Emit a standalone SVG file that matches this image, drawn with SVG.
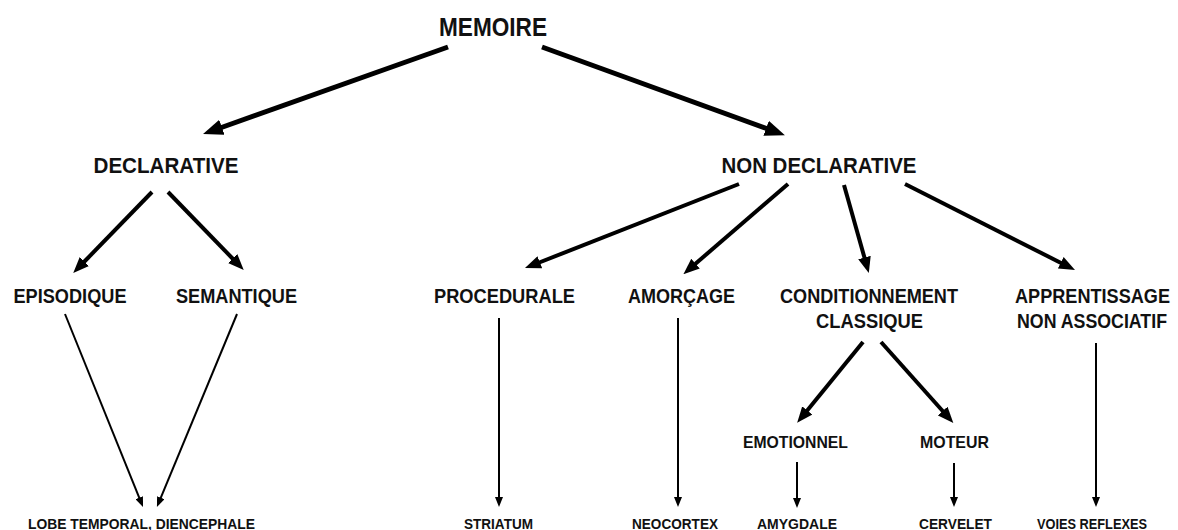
<svg xmlns="http://www.w3.org/2000/svg" width="1178" height="530" viewBox="0 0 1178 530">
<style>
text{font-family:"Liberation Sans",Arial,sans-serif;font-weight:bold;fill:#111;text-anchor:middle}
.t1{font-size:26px}
.t2{font-size:22px}
.t3{font-size:21px}
.t3s{font-size:19px}
.t4{font-size:17px}
.t5{font-size:15px}
.thick{stroke:#000;stroke-width:5;fill:none;marker-end:url(#hThick)}
.med{stroke:#000;stroke-width:4;fill:none;marker-end:url(#hMed)}
.thin{stroke:#000;stroke-width:2;fill:none;marker-end:url(#hThin)}
</style>
<defs>
<marker id="hThick" markerUnits="userSpaceOnUse" markerWidth="20" markerHeight="16" refX="2" refY="8" orient="auto"><path d="M0,0 L20,8 L0,16 Z" fill="#000"/></marker>
<marker id="hMed" markerUnits="userSpaceOnUse" markerWidth="16" markerHeight="13" refX="2" refY="6.5" orient="auto"><path d="M0,0 L16,6.5 L0,13 Z" fill="#000"/></marker>
<marker id="hThin" markerUnits="userSpaceOnUse" markerWidth="10" markerHeight="8" refX="2" refY="4" orient="auto"><path d="M0,0 L10,4 L0,8 Z" fill="#000"/></marker>
</defs>
<rect width="1178" height="530" fill="#fff"/>
<g id="connectors">
<line class="thick" x1="448" y1="47" x2="220" y2="128"/>
<line class="thick" x1="542" y1="47" x2="768" y2="129"/>
<line class="med" x1="152" y1="192" x2="83" y2="263"/>
<line class="med" x1="168" y1="192" x2="234" y2="260"/>
<line class="med" x1="739" y1="184" x2="538" y2="263"/>
<line class="med" x1="788" y1="184" x2="694" y2="265"/>
<line class="med" x1="844" y1="185" x2="865" y2="259.5"/>
<line class="med" x1="905" y1="184" x2="1062.5" y2="263.7"/>
<line class="med" x1="863" y1="342" x2="806" y2="412"/>
<line class="med" x1="881" y1="342" x2="944" y2="412.5"/>
<line class="thin" x1="65" y1="314" x2="140" y2="499.6"/>
<line class="thin" x1="237" y1="314" x2="160" y2="499.6"/>
<line class="thin" x1="499" y1="318" x2="499" y2="499"/>
<line class="thin" x1="678" y1="318" x2="678" y2="499"/>
<line class="thin" x1="797" y1="462" x2="797" y2="500"/>
<line class="thin" x1="954" y1="463" x2="954" y2="499"/>
<line class="thin" x1="1096" y1="343" x2="1096" y2="499"/>
</g>
<g id="memoire"><text class="t1" x="493" y="36" textLength="108" lengthAdjust="spacingAndGlyphs">MEMOIRE</text></g>
<g id="declarative"><text class="t2" x="166" y="173" textLength="145" lengthAdjust="spacingAndGlyphs">DECLARATIVE</text></g>
<g id="non-declarative"><text class="t2" x="819" y="173" textLength="195" lengthAdjust="spacingAndGlyphs">NON DECLARATIVE</text></g>
<g id="episodique"><text class="t3" x="70" y="303" textLength="113" lengthAdjust="spacingAndGlyphs">EPISODIQUE</text></g>
<g id="semantique"><text class="t3" x="236.5" y="303" textLength="121" lengthAdjust="spacingAndGlyphs">SEMANTIQUE</text></g>
<g id="procedurale"><text class="t3" x="504.5" y="303" textLength="141" lengthAdjust="spacingAndGlyphs">PROCEDURALE</text></g>
<g id="amorcage"><text class="t3" x="681.5" y="303" textLength="107" lengthAdjust="spacingAndGlyphs">AMORÇAGE</text></g>
<g id="conditionnement">
<text class="t3" x="869" y="303" textLength="178" lengthAdjust="spacingAndGlyphs">CONDITIONNEMENT</text>
<text class="t3" x="869.5" y="328" textLength="107" lengthAdjust="spacingAndGlyphs">CLASSIQUE</text>
</g>
<g id="apprentissage">
<text class="t3s" transform="translate(1092.5,303) scale(1,1.1)" x="0" y="0" textLength="155" lengthAdjust="spacingAndGlyphs">APPRENTISSAGE</text>
<text class="t3s" transform="translate(1092,328) scale(1,1.1)" x="0" y="0" textLength="150" lengthAdjust="spacingAndGlyphs">NON ASSOCIATIF</text>
</g>
<g id="emotionnel"><text class="t4" x="795.5" y="448" textLength="105" lengthAdjust="spacingAndGlyphs">EMOTIONNEL</text></g>
<g id="moteur"><text class="t4" x="954.5" y="448" textLength="69" lengthAdjust="spacingAndGlyphs">MOTEUR</text></g>
<g id="lobe"><text class="t5" x="141.5" y="529" textLength="227" lengthAdjust="spacingAndGlyphs">LOBE TEMPORAL, DIENCEPHALE</text></g>
<g id="striatum"><text class="t5" x="498.5" y="529" textLength="69" lengthAdjust="spacingAndGlyphs">STRIATUM</text></g>
<g id="neocortex"><text class="t5" x="675" y="529" textLength="86" lengthAdjust="spacingAndGlyphs">NEOCORTEX</text></g>
<g id="amygdale"><text class="t5" x="797" y="529" textLength="80" lengthAdjust="spacingAndGlyphs">AMYGDALE</text></g>
<g id="cervelet"><text class="t5" x="955.5" y="529" textLength="73" lengthAdjust="spacingAndGlyphs">CERVELET</text></g>
<g id="voies"><text class="t5" x="1092" y="529" textLength="110" lengthAdjust="spacingAndGlyphs">VOIES REFLEXES</text></g>
</svg>
